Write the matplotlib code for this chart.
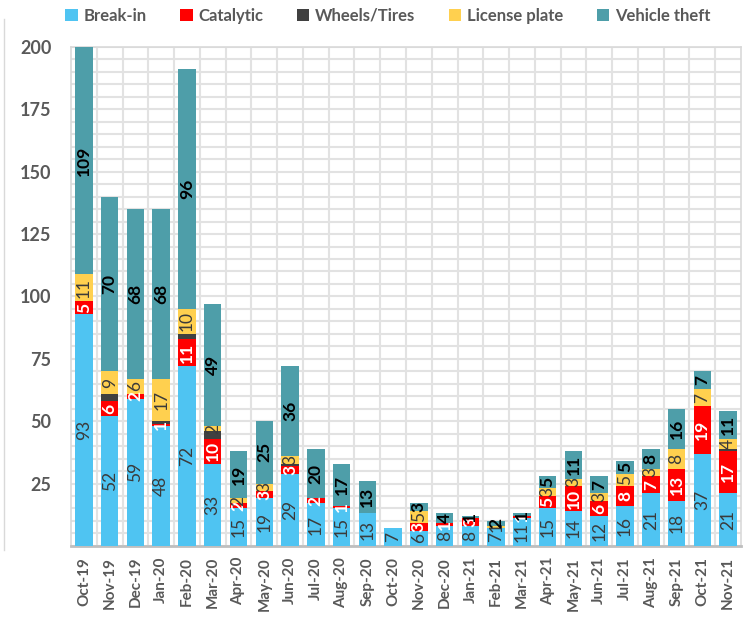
"""
Stacked monthly vehicle crime counts, Oct-19 to Nov-21.
"""

import matplotlib
matplotlib.use("Agg")
import matplotlib.pyplot as plt
from matplotlib.patches import Patch
import numpy as np

# ── DATA ────────────────────────────────────────────────────────────
months = ["Oct-19", "Nov-19", "Dec-19", "Jan-20", "Feb-20", "Mar-20", "Apr-20",
          "May-20", "Jun-20", "Jul-20", "Aug-20", "Sep-20", "Oct-20", "Nov-20",
          "Dec-20", "Jan-21", "Feb-21", "Mar-21", "Apr-21", "May-21", "Jun-21",
          "Jul-21", "Aug-21", "Sep-21", "Oct-21", "Nov-21"]
break_in = [93, 52, 59, 48, 72, 33, 15, 19, 29, 17, 15, 13, 7, 6, 8, 8, 7, 11,
            15, 14, 12, 16, 21, 18, 37, 21]
catalytic = [5, 6, 2, 1, 11, 10, 2, 3, 3, 2, 1, 0, 0, 3, 1, 3, 0, 1,
             5, 10, 6, 8, 7, 13, 19, 17]
wheels = [0, 3, 0, 1, 2, 3, 0, 0, 1, 0, 0, 0, 0, 0, 0, 0, 0, 0,
          0, 0, 0, 0, 0, 0, 0, 1]
license_plate = [11, 9, 6, 17, 10, 2, 2, 3, 3, 0, 0, 0, 0, 5, 0, 0, 1, 0,
                 3, 3, 3, 5, 3, 8, 7, 4]
vehicle_theft = [109, 70, 68, 68, 96, 49, 19, 25, 36, 20, 17, 13, 0, 3, 4, 1, 2, 1,
                 5, 11, 7, 5, 8, 16, 7, 11]
y_ticks = [25, 50, 75, 100, 125, 150, 175, 200]

# ── STYLE ───────────────────────────────────────────────────────────
FONT = ["Lato", "DejaVu Sans"]
GREY = "#595959"
GRID = "#E2E2E2"
series = [
    ("Break-in", break_in, "#4FC4F2", "#3A3A3A", "normal", True),
    ("Catalytic", catalytic, "#FF0000", "white", "bold", True),
    ("Wheels/Tires", wheels, "#404040", "#404040", "normal", False),
    ("License plate", license_plate, "#FFD04F", "#3A3A3A", "normal", True),
    ("Vehicle theft", vehicle_theft, "#4E9EA9", "black", "bold", True),
]

plt.rcParams["font.family"] = FONT

fig = plt.figure(figsize=(7.53, 6.21), dpi=100)
ax = fig.add_axes([0.0943, 0.121, 0.8897, 0.8033])

x = np.arange(len(months))
bottom = np.zeros(len(months))
handles = []
for name, vals, color, tcolor, weight, show in series:
    vals = np.array(vals, dtype=float)
    bars = ax.bar(x, vals, 0.68, bottom=bottom, color=color, zorder=3)
    if show:
        labels = [f"{int(v)}" if v > 0 else "" for v in vals]
        ax.bar_label(bars, labels=labels, label_type="center", rotation=90,
                     fontsize=12.5, color=tcolor, fontweight=weight, zorder=4)
    bottom += vals
    handles.append(Patch(facecolor=color, label=name))

ax.set_xlim(-0.5, len(months) - 0.5)
ax.set_ylim(0, 200)
ax.set_yticks(y_ticks)
ax.set_yticks(np.arange(0, 201, 5), minor=True)
ax.set_xticks(x)
ax.set_xticks(x[:-1] + 0.5, minor=True)
ax.set_xticklabels(months, rotation=90, fontsize=11, fontweight="bold", color=GREY)
ax.tick_params(axis="y", labelsize=13, labelcolor=GREY, length=0, pad=14)
ax.tick_params(axis="x", length=0, pad=8)
ax.tick_params(which="minor", length=0)
for lab in ax.get_yticklabels():
    lab.set_fontweight("bold")

ax.grid(which="both", axis="both", color=GRID, lw=1.5, zorder=0)
ax.grid(which="major", axis="x", visible=False)
for side in ["left", "right", "top"]:
    ax.spines[side].set_color("#D9D9D9")
    ax.spines[side].set_linewidth(1.2)
ax.spines["bottom"].set_color("#BFBFBF")
ax.spines["bottom"].set_linewidth(2)

leg = fig.legend(handles=handles, loc="upper center", bbox_to_anchor=(0.515, 1.012),
                 ncol=5, frameon=False, handlelength=0.75, handleheight=0.75,
                 handletextpad=0.35, columnspacing=2.0,
                 prop={"family": FONT, "size": 12, "weight": "bold"})
for t in leg.get_texts():
    t.set_color(GREY)

# faint frame edge on the left, as in the screenshot
fig.add_artist(plt.Line2D([0.005, 0.005], [0.115, 0.97], color="#D9D9D9", lw=1))

fig.savefig("out.png", dpi=100)
